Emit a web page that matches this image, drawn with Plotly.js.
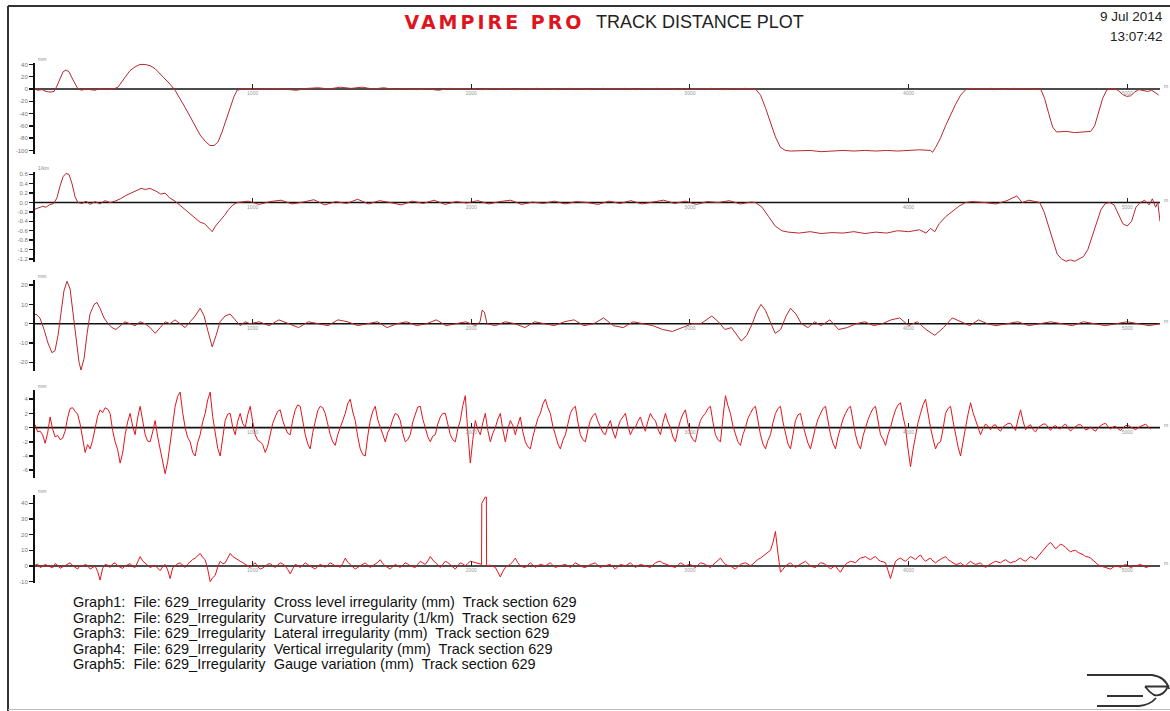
<!DOCTYPE html>
<html>
<head>
<meta charset="utf-8">
<script src="https://cdn.plot.ly/plotly-3.0.1.min.js"></script>
<style>html,body{margin:0;padding:0;background:#fff;}#chart{width:1170px;height:711px;}</style>
</head>
<body>
<div id="chart"></div>
<script>
// ---------------- DATA (distance in m, values in panel units) ----------------
const distTicks = [1000, 2000, 3000, 4000, 5000];

// Graph1: Cross level irregularity (mm)
const crossDist = [0,18,37,55,73,92,105,119,133,146, 160,174,188,201,220,238,256,279,302,325, 348,371,384,403,421,439,462,485,508,531, 554,577,600,622,645,668,691,714,737,760, 783,805,824,842,860,879,897,915,929,952,
 1000,1050,1100,1150,1200,1250,1300,1350,1400,1450, 1500,1550,1600,1650,1700,1750,1800,1850,1900,1950, 2000,2050,2100,2150,2200,2250,2300,2350,2400,2450, 2500,2550,2600,2650,2700,2750,2800,2850,2900,2950, 3000,3050,3100,3150,3200,3250,3300,
 3323,3345,3368,3391,3414,3437,3460,
 3500,3550,3600,3650,3700,3750,3800,3850,3900,3950,4000,4050,4100,
 4110, 4124,4146,4169,4192,4215,4238,4261,4284,
 4330,4380,4430,4480,4530,4580,4604,
 4622,4641,4659,4677, 4720,4760,4800,4833,
 4851,4869,4888,4906,4924,4947,
 4961,4979,4998,5016,5034,5053,5076,5094,5112,5130,5144];
const crossVal = [0,-2,-1,-4,-5,-4,5,18,28,31, 28,18,8,0,-2,1,-1,-2,1,-1, 0,1,3,12,22,30,36,40,40,38, 33,25,16,8,-2,-15,-30,-45,-60,-75, -85,-92,-92,-86,-70,-50,-30,-12,-2,0,
 1,-1,1,0,-2,1,2,0,3,1, 3,0,2,-1,0,-1,0,-2,1,0, 1,-1,0,1,-1,0,1,0,-1,1, 0,-1,1,0,1,-1,0,1,0,-1, 1,0,1,-1,0,1,0,
 -10,-30,-55,-78,-95,-100,-101,
 -101,-100,-102,-101,-100,-101,-100,-101,-100,-101,-100,-99,-100,
 -103, -95,-80,-60,-42,-25,-10,-1,1,
 0,1,-1,1,0,-1,0,
 -15,-40,-62,-70, -69,-71,-70,-69,
 -60,-38,-15,-2,1,0,
 -3,-9,-12,-11,-5,-1,-2,-4,-2,-6,-10];

// Graph2: Curvature irregularity (1/km)
const curvDist = [0,20,40,55,70,90,105,119,133,146, 160,174,188,201,220,238,256,279,302,325, 348,371,395,420,445,470,490,510,530,555, 580,600,620,645,665,690,715,740,760,780, 800,815,830,850,870,890,910,930,
 980,1030,1080,1130,1180,1230,1280,1330,1380,1430, 1480,1530,1580,1630,1680,1730,1780,1830,1880,1930, 1980,2030,2080,2130,2180,2230,2280,2330,2380,2430, 2480,2530,2580,2630,2680,2730,2780,2830,2880,2930, 2980,3030,3080,3130,3180,3230,3280,
 3300,3330,3360,3390,3420,3450,
 3500,3550,3600,3650,3700,3750,3800,3850,3900,3950,4000,4050,
 4080,4100,4120,4140,4170,4200,4230,4260,4290,
 4350,4400,4450,4495,4520,4550,4580,4600,
 4620,4640,4660,4680,4700,4720,4740,4760,4780,4800,
 4820,4840,4860,4880,4900,4920,4940,4960,4980,5000,
 5020,5040,5060,5080,5100,5115,5130,5140,5150];
const curvVal = [-0.15,-0.12,-0.08,-0.1,-0.05,-0.02,0.1,0.35,0.55,0.62, 0.6,0.4,0.12,0.0,-0.02,0.03,-0.04,0.02,-0.03,0.04, 0.0,0.03,0.08,0.15,0.2,0.25,0.3,0.28,0.3,0.25, 0.18,0.2,0.1,0.03,-0.05,-0.15,-0.25,-0.35,-0.42,-0.45, -0.55,-0.62,-0.5,-0.4,-0.28,-0.15,-0.05,0.0,
 0.03,-0.04,0.02,0.05,-0.03,0.01,0.06,-0.05,0.02,-0.02, 0.07,-0.03,0.04,0.0,-0.05,0.03,-0.02,0.05,-0.04,0.02, -0.01,0.04,-0.03,0.02,0.05,-0.04,0.01,-0.02,0.03,-0.03, 0.02,0.0,-0.04,0.03,-0.02,0.04,-0.03,0.01,0.05,-0.02, 0.03,-0.04,0.02,0.0,0.04,-0.03,0.01,
 0.0,-0.1,-0.3,-0.5,-0.6,-0.63,
 -0.65,-0.62,-0.66,-0.64,-0.65,-0.62,-0.66,-0.63,-0.65,-0.6,-0.62,-0.58,
 -0.65,-0.55,-0.62,-0.45,-0.3,-0.18,-0.08,0.0,0.02,
 0.0,-0.03,0.04,0.14,0.0,0.05,0.02,0.0,
 -0.2,-0.5,-0.85,-1.1,-1.2,-1.25,-1.22,-1.25,-1.2,-1.15,
 -1.0,-0.7,-0.4,-0.15,-0.02,0.0,-0.05,-0.25,-0.45,-0.5,
 -0.4,-0.1,0.0,0.05,-0.05,0.08,-0.1,0.0,-0.4];

// Graph3: Lateral irregularity (mm)
const latDist = [0,9,27,46,64,82,96,110,124,137, 151,165,178,192,206,215,229,243,256,275, 288,302,320,339,357,375,394,416,439,462, 485,508,531,554,577,600,622,645,668,691, 714,737,760,778,796,815,833,851,874,897, 920,943,966,989,
 1030,1075,1120,1165,1210,1255,1300,1345,1390,1435, 1480,1525,1570,1615,1660,1705,1750,1795,1840,1885, 1930,1975,2020,
 2040,2050,2060,2072,
 2110,2155,2200,2245,2290,2335,2380,2425,2470,2515, 2560,2605,2650,2695,2740,2785,2830,2875,2920,2965, 3010,
 3050,3100,3130,3160,3190,3210,3235,3260,3285,3305, 3325,3345,3370,3390,3415,3440,3460,3485,3510,3540, 3570,3600,3640,3680,3720,3760,3800,3840,
 3880,3920,3960,4000,4040,4080,4120,4160,4200,4240, 4280,4320,4360,4400,
 4450,4500,4550,4600,4650,4700,4750,4800,4850,4900, 4950,5000,5050,5100,5150];
const latVal = [4,5,3,-3,-10,-15,-14,-6,6,17, 22,18,6,-8,-20,-24,-18,-5,5,10, 11,8,3,0,-2,-3,-1,1,0,-1, 1,0,-2,-5,-2,1,0,2,0,-2, 1,4,8,4,-4,-12,-6,1,4,5, 2,-1,1,0,
 1,-1,2,0,-2,1,0,-1,2,1, -1,0,1,-2,0,1,-1,0,2,-1, 0,1,-1,
 1,7,6,0,
 -1,1,0,-2,1,0,-1,1,2,-1, 0,3,-1,-2,1,0,-1,-3,-4,-2, 0,
 0,4,1,-3,-2,-5,-9,-6,0,6, 10,7,0,-5,-3,4,8,5,0,-2, 1,-1,2,-3,-2,0,1,-1,
 0,2,3,-1,1,-3,-6,-2,3,1, -1,2,0,-1,
 0,1,-1,0,1,0,-1,1,0,-1, 0,1,0,-1,0];

// Graph4: Vertical irregularity (mm), sampled every vertStep m from vertStart
const vertStart = 5, vertStep = 11.44;
const vertVal = [
 0.4,-0.6,-0.5,-1.0,-2.2,-0.8,1.5,-0.2,-1.3,-1.1, -1.7,-1.5,-0.5,1.4,2.7,2.8,2.3,1.9,0.5,-1.8,
 -3.5,-2.4,-3,-1.8,0,1.6,2.5,2.1,2.8,2.6, 2,-0.4,-2,-3.1,-5,-3.6,-1,0.8,2,0.2,
 -1,1.4,3,0.7,-1,-1.9,-2,-0.6,1,-1.3, -3,-5.2,-6.5,-4.8,-2,0.9,3,4.4,5,2.1,
 0,-1.4,-2,-3.5,-4,-2.1,-1,0.8,2,3.9, 5,1.6,-1,-2.9,-4,-1.2,1,1.9,2,0.1,
 -1,0.9,2,0.6,0,1.8,3,0.8,-1,-1.8, -2,-2.4,-3.5,-2.6,-1,0.6,1.5,2.3,2.5,1.0,
 0,-0.8,-1,1.1,2.5,3.2,3,0.9,-1,-2.3, -3,-0.7,1,2.4,3,2.8,2,0.3,-1,-2.0,
 -2.5,-1.0,0,1.3,2,3.4,4,2.2,1,-1.3, -3,-3.8,-4,-1.2,1,2.3,3,1.1,0,-1.2,
 -2,-0.7,0,1.2,2,1.8,1,-0.8,-2,-1.7, -1,0.8,2,2.9,3,1.2,0,-1.3,-2,-1.2,
 -1,0.5,1.5,2.0,2,0.3,-1,-1.7,-2,-0.2, 1,3.1,4.5,-0.6,-5,-1.7,1,-0.3,-1,0.7,
 2,-0.4,-2,-0.8,0,1.2,2,-0.3,-2,-0.2, 1,0.3,-1,0.4,1.5,-0.6,-2,-2.7,-3,-1.3,
 0,1.3,2,3.3,4,2.8,2,0.2,-1,-2.3, -3,-1.8,-1,0.6,2,2.7,3,0.8,-1,-1.7,
 -2,-0.3,1,1.7,2,0.9,0,-0.7,-1,0.2, 1,-0.5,-1.5,0.0,1,1.6,2,0.3,-1,-0.2,
 0,0.9,1.5,0.3,-0.5,0.9,2,1.3,1,-0.2, -1,0.7,2,0.8,0,-1.3,-2,-0.3,1,1.9,
 2.5,0.6,-1,-1.7,-2,-0.3,1,1.6,2,2.7, 3,0.8,-1,-1.7,-2,1.4,4.5,3.1,2,0.2,
 -1,-2.0,-2.5,-1.0,0,1.3,2,2.7,3,0.8, -1,-2.3,-3,-1.8,-1,0.7,2,2.7,3,0.8,
 -1,-2.3,-3,-0.8,1,1.8,2,0.3,-1,-2.2, -3,-1.3,0,1.2,2,2.7,3,0.9,-1,-2.2,
 -3,-1.3,0,1.2,2,2.7,3,0.8,-1,-2.3, -3,-1.2,0,1.1,2,2.7,3,0.8,-1,-1.6,
 -2.5,-1.0,0,1.4,2.5,3.2,3.5,1.6,0,-3.0, -5.5,-3.1,-1,0.7,2,3.2,4,1.8,0,-1.6,
 -3,-2.2,-2,-0.2,2,2.7,3,0.9,-1,-2.7, -4,-1.8,0,1.9,3.5,2.1,1,-0.2,-1,-0.1,
 0.5,0.2,-0.3,0.3,0.4,-0.2,-0.5,0.1,0.3,0.6, 0.6,0.0,-0.4,1.2,2.5,0.9,-0.3,0.2,0.4,-0.3,
 -0.6,0.0,0.2,0.5,0.5,0.0,-0.4,0.1,0.3,-0.1, -0.2,0.3,0.5,-0.1,-0.5,-0.1,0.2,0.4,0.4,0.1,
 -0.3,-0.2,0.1,-0.3,-0.5,0.0,0.3,0.5,0.6,0.1, -0.2,0.1,0.2,-0.2,-0.4,0.0,0.3,0.3,0.1,-0.2,
 -0.3,0.0,0.2,0.4,0.5,0.1,-0.2];

// Graph5: Gauge variation (mm), sampled every gaugeStep m from gaugeStart, plus the spike edges
const gaugeStart = 5, gaugeStep = 11.44;
const gaugeVal = [
 0.5,1.2,-1,-0.3,1,0.2,-0.5,-1.2,1.5,0.4, -1.5,-0.6,0,1.1,2,0.3,-1,-2.0,0.5,-0.4,
 1,0.2,-2,-0.8,0,-3.5,-9,-1.5,1,0.5, -1,1.3,2,0.1,-1,-1.6,0,0.8,1.5,-0.3,
 -1,2.5,6,3.2,2,0.4,-1,-0.2,0.5,-1.4, -3,-0.5,1,-2.5,-8,-1.2,0,1.4,2,0.3,
 -1,1.2,3,4.1,5,6.2,8,5.5,4,-2.0, -10,-7.5,-6,-0.8,3,1.4,2,5.0,8,6.1,
 5,3.6,3,2.2,1,0.1,-1,0.8,2,-0.4, -2,-1.3,0,1.1,1.5,0.2,-1,0.6,2,1.3,
 0,-2.2,-5,-1.8,1,0.3,-1,0.4,2,0.9, 0,-1.1,-2,-0.2,1,0.3,-1,0.7,2,1.1,
 0,0.4,-1,1.6,5,2.4,1,-0.6,-2,-0.9, 0,1.2,2,0.4,-1,0.2,1,2.3,4,1.5,
 0,-1.2,-2,-0.4,1,0.1,-1,0.6,2,1.2, 0,-0.5,-1,1.1,3,2.0,1,3.2,6,3.8,
 2,0.4,-1,1.0,3,2.2,1,-0.6,-2,0.1, 2,1.3,0,1.6,3,2.6,2,1.8,1,41,
 44,0.2,0.5,-0.2,-1,-3.8,-7,-3.5,-1,0.2, 1,2.8,5,2.1,0,-0.6,-1,0.7,2,0.6,
 -1,0.2,1,0.6,0,1.1,2,0.4,-1,-0.3, 0,0.6,1,0.1,-1,0.5,2,1.2,0,-0.7,
 -1,0.3,1,1.4,2,0.3,-1,-0.2,0,0.7, 1,-0.6,-2,-0.4,1,0.6,0,1.1,2,0.5,
 -1,0.1,1,0.6,0,-0.7,-1,0.6,2,2.7, 3,1.8,1,0.7,0,-0.6,-1,0.4,2,1.1,
 0,0.7,1,-0.1,-1,0.5,2,1.6,1,-0.2, -1,0.6,2,3.4,5,2.8,1,0.3,0,-1.1,
 -2,-0.4,1,1.6,2,1.2,0,1.3,3,4.2, 5,6.3,8,9.1,10,15,22,8,-4,-2.1,
 0,1.1,2,0.4,-1,0.2,1,2.1,3,1.4, 0,-0.6,-1,0.7,2,1.8,1,-0.4,-2,-0.7,
 0,-2.2,-4,-1.3,1,2.2,3,2.6,2,3.8, 5,5.4,6,4.8,4,5.2,6,4.1,3,2.7,
 2,-3.0,-8,-2.2,3,4.3,5,3.8,3,4.6, 6,5.1,4,5.9,7,4.6,3,4.2,5,3.1,
 2,3.3,4,5.2,6,4.1,3,1.8,1,1.2, 2,0.6,0,1.8,3,1.7,1,1.4,2,0.2,
 -1,0.3,1,2.2,3,2.6,2,3.3,4,2.8, 2,2.6,3,4.2,5,3.7,3,4.6,6,5.2,
 4,6.1,8,10.2,12,13.8,15,12.6,11,12.3, 14,13.1,12,10.2,9,9.8,10,8.6,8,7.2,
 6,5.8,5,3.4,2,0.8,0,-0.6,-1,-1.6, -2,-0.8,0,-0.3,-1,0.2,1,0.1,-1,-0.4,
 0,0.6,1,0.1,-1,-0.5,0];
const gaugePulseDist = [2047, 2048, 2069, 2070];
const gaugePulseVal = [1, 40, 44, 0];

const unitLabels = ['mm', '1/km', 'mm', 'mm', 'mm'];
const yTicks = [
  [40,20,0,-20,-40,-60,-80,-100],
  [0.6,0.4,0.2,0,-0.2,-0.4,-0.6,-0.8,-1.0,-1.2],
  [20,10,0,-10,-20],
  [4,2,0,-2,-4,-6],
  [40,30,20,10,0,-10]
];
const yTickText = [
  ['40','20','0','-20','-40','-60','-80','-100'],
  ['0.6','0.4','0.2','0.0','-0.2','-0.4','-0.6','-0.8','-1.0','-1.2'],
  ['20','10','0','-10','-20'],
  ['4','2','0','-2','-4','-6'],
  ['40','30','20','10','0','-10']
];
const captions = [
  'Graph1:  File: 629_Irregularity  Cross level irregularity (mm)  Track section 629',
  'Graph2:  File: 629_Irregularity  Curvature irregularity (1/km)  Track section 629',
  'Graph3:  File: 629_Irregularity  Lateral irregularity (mm)  Track section 629',
  'Graph4:  File: 629_Irregularity  Vertical irregularity (mm)  Track section 629',
  'Graph5:  File: 629_Irregularity  Gauge variation (mm)  Track section 629'
];
const titleBrand = 'VAMPIRE PRO';
const titleRest = 'TRACK DISTANCE PLOT';
const dateText = '9 Jul 2014';
const timeText = '13:07:42';

// ---------------- LAYOUT HELPERS ----------------
const W = 1170, H = 711;
const px = x => x / W;
const py = y => 1 - y / H;
const gridDist = (start, step, n) => Array.from({length: n}, (_, i) => +(start + i * step).toFixed(1));

// merge gauge grid with spike edges
const gGrid = gridDist(gaugeStart, gaugeStep, gaugeVal.length);
let gPairs = gGrid.map((d, i) => [d, gaugeVal[i]]).concat(gaugePulseDist.map((d, i) => [d, gaugePulseVal[i]]));
gPairs.sort((a, b) => a[0] - b[0]);

const panels = [
  {range: [-105, 43], top: 62.6, bot: 153.5, zero: 89},
  {range: [-1.27, 0.65], top: 172, bot: 262.2, zero: 202.5},
  {range: [-24.5, 22.5], top: 280.3, bot: 371, zero: 323.7},
  {range: [-7.1, 5.3], top: 390, bot: 478, zero: 427.6},
  {range: [-11, 45.3], top: 495, bot: 583.2, zero: 566}
];

const darkRed = '#b8282c', brightRed = '#e3141c';
const traces = [
  {x: crossDist, y: crossVal, color: darkRed, w: 1},
  {x: curvDist, y: curvVal, color: darkRed, w: 1},
  {x: latDist, y: latVal, color: darkRed, w: 1},
  {x: gridDist(vertStart, vertStep, vertVal.length), y: vertVal, color: brightRed, w: 1},
  {x: gPairs.map(p => p[0]), y: gPairs.map(p => p[1]), color: brightRed, w: 1}
].map((t, i) => ({
  type: 'scatter', mode: 'lines', x: t.x, y: t.y,
  xaxis: i === 0 ? 'x' : 'x' + (i + 1), yaxis: i === 0 ? 'y' : 'y' + (i + 1),
  line: {color: t.color, width: t.w}, hoverinfo: 'skip', showlegend: false
}));

const layout = {
  width: W, height: H,
  margin: {l: 0, r: 0, t: 0, b: 0},
  paper_bgcolor: '#fff', plot_bgcolor: 'rgba(0,0,0,0)',
  font: {family: 'Liberation Sans, Arial, sans-serif', color: '#111'},
  showlegend: false,
  shapes: [], annotations: []
};

panels.forEach((p, i) => {
  const sfx = i === 0 ? '' : String(i + 1);
  layout['xaxis' + sfx] = {
    domain: [px(34), px(1160)], range: [0, 5150], anchor: 'free', position: py(p.zero),
    showline: false, showgrid: false, zeroline: false,
    ticks: 'inside', ticklen: 5, tickwidth: 1, tickcolor: '#222',
    tickvals: distTicks, tickfont: {size: 5, color: '#999'}, fixedrange: true
  };
  layout['yaxis' + sfx] = {
    domain: [py(p.bot), py(p.top)], range: p.range, anchor: 'free', position: px(34),
    showline: true, linecolor: '#111', linewidth: 2,
    ticks: 'outside', ticklen: 4, tickwidth: 1.5, tickcolor: '#111',
    tickvals: yTicks[i], ticktext: yTickText[i], tickfont: {size: 6, color: '#777'},
    showgrid: false, zeroline: false, fixedrange: true
  };
  layout.shapes.push({type: 'line', xref: 'paper', yref: 'y' + sfx, x0: px(34), x1: px(1160), y0: 0, y1: 0,
    line: {color: '#111', width: 1.6}, layer: 'below'});
  layout.annotations.push({text: unitLabels[i], xref: 'paper', yref: 'paper', x: px(36), y: py(p.top - 4),
    xanchor: 'left', yanchor: 'middle', showarrow: false, font: {size: 5, color: '#888'}});
  layout.annotations.push({text: 'm', xref: 'paper', yref: 'paper', x: px(1162), y: py(p.zero - 3),
    xanchor: 'left', yanchor: 'middle', showarrow: false, font: {size: 5, color: '#888'}});
});

// page frame
layout.shapes.push({type: 'line', xref: 'paper', yref: 'paper', x0: px(8), x1: px(8), y0: py(6), y1: py(711),
  line: {color: '#333', width: 2}});
layout.shapes.push({type: 'line', xref: 'paper', yref: 'paper', x0: px(8), x1: 1, y0: py(6), y1: py(6),
  line: {color: '#333', width: 2}});
layout.shapes.push({type: 'line', xref: 'paper', yref: 'paper', x0: px(8), x1: 1, y0: py(709.5), y1: py(709.5),
  line: {color: '#bbb', width: 1}});

// logo (decorative)
const P = (x, y) => px(x).toFixed(5) + ',' + py(y).toFixed(5);
const logoPaths = [
  'M' + P(1087, 675) + ' L' + P(1152, 675) + ' Q' + P(1166, 677) + ' ' + P(1169, 689),
  'M' + P(1145, 686.5) + ' L' + P(1168, 686.5) + ' Q' + P(1163, 697) + ' ' + P(1154, 695) + ' Q' + P(1149, 692) + ' ' + P(1145, 686.5),
  'M' + P(1107, 696) + ' L' + P(1143, 696),
  'M' + P(1097, 706) + ' L' + P(1139, 706) + ' Q' + P(1150, 705) + ' ' + P(1156, 698)
];
logoPaths.forEach(path => layout.shapes.push({type: 'path', xref: 'paper', yref: 'paper', path: path,
  line: {color: '#333', width: 1.8}}));

// titles
layout.annotations.push({text: '<b>' + titleBrand + '</b>', xref: 'paper', yref: 'paper', x: px(494), y: py(22),
  xanchor: 'center', yanchor: 'middle', showarrow: false, font: {family: 'DejaVu Sans', size: 19, color: '#e0141c'}});
layout.annotations.push({text: titleRest, xref: 'paper', yref: 'paper', x: px(594), y: py(22),
  xanchor: 'left', yanchor: 'middle', showarrow: false, font: {size: 18, color: '#222'}});
layout.annotations.push({text: dateText, xref: 'paper', yref: 'paper', x: px(1165), y: py(16),
  xanchor: 'right', yanchor: 'middle', showarrow: false, font: {size: 13.5, color: '#222'}});
layout.annotations.push({text: timeText, xref: 'paper', yref: 'paper', x: px(1165), y: py(37),
  xanchor: 'right', yanchor: 'middle', showarrow: false, font: {size: 13.5, color: '#222'}});

const capY = [602, 617.5, 633, 648.5, 664];
captions.forEach((c, i) => layout.annotations.push({
  text: c.replace(/  /g, '\u00a0 '), xref: 'paper', yref: 'paper', x: px(71), y: py(capY[i]),
  xanchor: 'left', yanchor: 'middle', showarrow: false, font: {size: 14.5, color: '#111'}
}));

Plotly.newPlot('chart', traces, layout, {displayModeBar: false, staticPlot: true}).then(gd => {
  // widen the brand lettering like the original logotype
  gd.querySelectorAll('.annotation-text').forEach(t => {
    if (t.textContent === titleBrand) t.style.letterSpacing = '3px';
  });
});
</script>
</body>
</html>
